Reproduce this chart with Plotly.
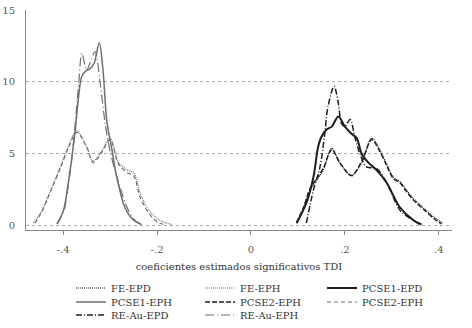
import plotly.graph_objects as go

# ---- data (kernel density estimates) ----
fe_epd_x = [0.097, 0.112, 0.126, 0.140, 0.154, 0.172, 0.189, 0.214, 0.236, 0.257, 0.274, 0.289, 0.303, 0.317, 0.331, 0.346, 0.366, 0.390, 0.409]
fe_epd_y = [0.2, 1.2, 2.5, 3.2, 3.9, 5.4, 4.4, 3.5, 4.4, 6.1, 5.3, 4.3, 3.4, 3.1, 2.5, 1.9, 1.3, 0.6, 0.2]

fe_eph_x = [-0.463, -0.445, -0.424, -0.406, -0.389, -0.371, -0.350, -0.336, -0.318, -0.300, -0.282, -0.264, -0.250, -0.236, -0.218, -0.194, -0.169]
fe_eph_y = [0.2, 1.1, 2.7, 4.1, 5.5, 6.6, 5.5, 4.5, 5.2, 6.1, 4.4, 3.9, 3.7, 2.3, 1.1, 0.4, 0.1]

pcse1_epd_x = [0.097, 0.118, 0.133, 0.143, 0.150, 0.161, 0.172, 0.186, 0.200, 0.214, 0.225, 0.236, 0.250, 0.267, 0.289, 0.317, 0.346, 0.363]
pcse1_epd_y = [0.2, 1.6, 3.4, 5.5, 6.2, 6.7, 6.9, 7.6, 6.9, 6.4, 6.1, 5.0, 4.4, 3.9, 3.0, 1.3, 0.4, 0.1]

pcse1_eph_x = [-0.413, -0.399, -0.389, -0.382, -0.374, -0.367, -0.360, -0.350, -0.343, -0.334, -0.323, -0.315, -0.307, -0.296, -0.289, -0.283, -0.272, -0.264, -0.250, -0.233]
pcse1_eph_y = [0.15, 1.1, 3.0, 4.6, 6.7, 9.0, 10.4, 10.8, 10.9, 11.3, 12.7, 10.8, 7.3, 5.3, 3.9, 3.0, 1.6, 1.0, 0.4, 0.1]

pcse2_epd_x = [0.097, 0.112, 0.126, 0.140, 0.154, 0.172, 0.189, 0.214, 0.236, 0.257, 0.274, 0.289, 0.303, 0.317, 0.331, 0.346, 0.366, 0.390, 0.405]
pcse2_epd_y = [0.2, 1.3, 2.6, 3.3, 4.0, 5.3, 4.4, 3.5, 4.5, 6.0, 5.2, 4.2, 3.3, 3.0, 2.4, 1.8, 1.2, 0.5, 0.15]

pcse2_eph_x = [-0.460, -0.445, -0.424, -0.406, -0.389, -0.371, -0.350, -0.336, -0.318, -0.300, -0.282, -0.264, -0.250, -0.236, -0.218, -0.200, -0.180]
pcse2_eph_y = [0.2, 1.0, 2.6, 4.0, 5.4, 6.5, 5.5, 4.4, 5.1, 6.0, 4.3, 3.7, 3.5, 2.0, 0.9, 0.3, 0.05]

reau_epd_x = [0.118, 0.133, 0.147, 0.157, 0.164, 0.177, 0.186, 0.193, 0.200, 0.211, 0.221, 0.232, 0.246, 0.267, 0.289, 0.317, 0.340, 0.360]
reau_epd_y = [0.2, 2.5, 4.1, 6.4, 8.3, 9.7, 8.5, 7.1, 6.9, 7.4, 6.2, 5.0, 4.1, 4.0, 3.0, 1.1, 0.5, 0.1]

reau_eph_x = [-0.413, -0.399, -0.389, -0.382, -0.374, -0.367, -0.360, -0.350, -0.343, -0.332, -0.321, -0.310, -0.300, -0.289, -0.278, -0.264, -0.250, -0.236]
reau_eph_y = [0.15, 1.0, 2.8, 4.5, 7.2, 9.8, 12.0, 10.8, 11.3, 12.1, 9.9, 7.0, 5.2, 3.8, 2.6, 1.3, 0.5, 0.15]

names = ["FE-EPD", "FE-EPH", "PCSE1-EPD", "PCSE1-EPH", "PCSE2-EPH", "PCSE2-EPH", "RE-Au-EPD", "RE-Au-EPH"]
xs = [fe_epd_x, fe_eph_x, pcse1_epd_x, pcse1_eph_x, pcse2_epd_x, pcse2_eph_x, reau_epd_x, reau_eph_x]
ys = [fe_epd_y, fe_eph_y, pcse1_epd_y, pcse1_eph_y, pcse2_epd_y, pcse2_eph_y, reau_epd_y, reau_eph_y]

BLACK = "#1e1e1e"
GREY = "#6e6e6e"
styles = [
    dict(color=BLACK, width=1.2, dash="1px,1px"),
    dict(color=GREY, width=1.2, dash="1px,1px"),
    dict(color=BLACK, width=2.0, dash="solid"),
    dict(color=GREY, width=1.5, dash="solid"),
    dict(color=BLACK, width=1.5, dash="5px,2px"),
    dict(color=GREY, width=1.2, dash="4px,3px"),
    dict(color=BLACK, width=1.5, dash="6px,2px,1px,2px"),
    dict(color=GREY, width=1.2, dash="9px,3px,1px,3px"),
]

SERIF = "DejaVu Serif"

# legend grid (text start px, row centre px)
L, R, T, B = 26, 452, 10, 230
W, H = 472, 328
col_text = [111, 240, 362]
row_y = [288, 302, 315]

fig = go.Figure()
layout_legends = {}
for i, (nm, x, y, st) in enumerate(zip(names, xs, ys, styles)):
    key = "legend" if i == 0 else f"legend{i+1}"
    fig.add_trace(go.Scatter(x=x, y=y, mode="lines", name=nm,
                             line=dict(shape="spline", smoothing=0.9, **st),
                             legend=key))
    r, c = divmod(i, 3)
    left_px = col_text[c] - 40
    layout_legends[key] = dict(
        x=(left_px - L) / (R - L), xanchor="left",
        y=(B - row_y[r]) / (B - T), yanchor="middle",
        bgcolor="rgba(0,0,0,0)", borderwidth=0,
        font=dict(family=SERIF, size=10, color="#333333"),
        orientation="h", traceorder="normal",
    )

fig.update_layout(
    width=W, height=H,
    margin=dict(l=L, r=W - R, t=T, b=H - B, autoexpand=False),
    paper_bgcolor="white", plot_bgcolor="white",
    font=dict(family=SERIF, size=10, color="#555555"),
    showlegend=True,
    xaxis=dict(
        range=[-0.479, 0.428], tickvals=[-0.4, -0.2, 0, 0.2, 0.4],
        ticktext=["-.4", "-.2", "0", ".2", ".4"],
        showgrid=False, zeroline=False, showline=True, linecolor="#888888", linewidth=1,
        ticks="outside", ticklen=4, tickcolor="#888888", ticklabelstandoff=6,
        title=dict(text="coeficientes estimados significativos TDI",
                   font=dict(family=SERIF, size=10, color="#333333"), standoff=8),
    ),
    yaxis=dict(
        range=[-0.28, 15], tickvals=[0, 5, 10, 15],
        showgrid=True, gridcolor="#aaaaaa", griddash="dot", gridwidth=1,
        zeroline=False, showline=True, linecolor="#888888", linewidth=1,
        ticks="", ticklabelstandoff=8,
    ),
    **layout_legends,
)

fig.write_html("out.html", config={"displayModeBar": False},
               post_script="document.body.style.margin='0';document.body.style.padding='0';")
